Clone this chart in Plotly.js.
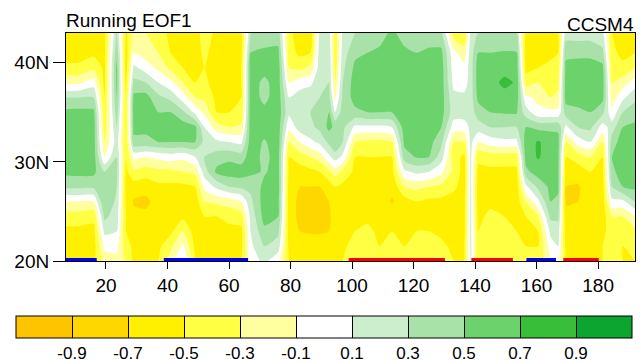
<!DOCTYPE html>
<html>
<head>
<meta charset="utf-8">
<script src="https://cdn.plot.ly/plotly-3.0.1.min.js"></script>
<style>html,body{margin:0;padding:0;background:#fff;}#chart{width:640px;height:362px;}</style>
</head>
<body>
<div id="chart"></div>
<script>
// Latitudes (rows, south to north)
const lats = [20, 21.5, 23, 24.5, 26, 27.5, 29, 30.5, 32, 33.5, 35, 36.5, 38, 39.5, 41, 43];
// Window-centre years (columns)
const years = [7, 11, 16, 19.5, 23.5, 26.5, 29, 33, 37, 41, 45, 49, 52, 56, 60, 64, 67, 71.5, 76,
  79.5, 83, 86.5, 89.5, 92.5, 94.5, 97, 101, 105, 109, 113, 117, 121, 125, 129, 133, 136.5, 138.6,
  141, 145, 149.5, 153.5, 156.5, 160.5, 164.5, 167, 169.5, 173.5, 177.5, 181.5, 184.5, 188, 192];
// EOF1 loading profile for each year (values from 20N to 43N)
const eofProfiles = [
  [-0.6,-0.6,-0.55,-0.4,-0.1,0.35,0.55,0.6,0.6,0.6,0.55,0.3,-0.15,-0.45,-0.6,-0.6],
  [-0.6,-0.6,-0.55,-0.4,-0.1,0.35,0.56,0.62,0.62,0.6,0.56,0.3,-0.15,-0.45,-0.6,-0.6],
  [-0.55,-0.6,-0.55,-0.45,-0.1,0.35,0.55,0.6,0.6,0.6,0.55,0.3,0.0,-0.35,-0.55,-0.6],
  [-0.2,-0.05,0.15,0.35,0.5,0.5,0.3,-0.1,-0.3,-0.4,-0.45,-0.5,-0.55,-0.55,-0.55,-0.55],
  [-0.15,-0.05,0.1,0.2,0.25,0.3,0.35,0.3,0.2,0.3,0.4,0.5,0.55,0.55,0.45,0.3],
  [-0.35,-0.4,-0.5,-0.5,-0.55,-0.55,-0.55,-0.5,-0.5,-0.5,-0.5,-0.5,-0.55,-0.6,-0.6,-0.55],
  [-0.55,-0.55,-0.6,-0.65,-0.72,-0.6,-0.35,-0.05,0.45,0.55,0.58,0.55,0.35,0.15,-0.1,-0.25],
  [-0.55,-0.6,-0.6,-0.65,-0.75,-0.62,-0.4,-0.1,0.45,0.55,0.55,0.58,0.3,0.0,-0.2,-0.3],
  [-0.5,-0.55,-0.6,-0.6,-0.6,-0.55,-0.35,-0.05,0.5,0.6,0.5,0.35,0.1,-0.15,-0.3,-0.4],
  [-0.2,-0.35,-0.55,-0.6,-0.6,-0.55,-0.35,0.0,0.5,0.6,0.5,0.25,-0.05,-0.35,-0.5,-0.55],
  [0.15,-0.05,-0.3,-0.55,-0.6,-0.55,-0.3,-0.05,0.5,0.6,0.35,0.0,-0.3,-0.5,-0.6,-0.6],
  [-0.5,-0.55,-0.6,-0.6,-0.6,-0.5,-0.25,0.1,0.5,0.55,0.05,-0.3,-0.5,-0.6,-0.6,-0.6],
  [-0.5,-0.55,-0.55,-0.5,-0.3,-0.05,0.2,0.3,0.25,0.1,-0.15,-0.35,-0.45,-0.5,-0.45,-0.4],
  [-0.6,-0.6,-0.55,-0.5,-0.25,0.15,0.55,0.4,0.15,-0.2,-0.5,-0.55,-0.6,-0.6,-0.6,-0.55],
  [-0.6,-0.6,-0.55,-0.45,-0.2,0.3,0.6,0.45,0.1,-0.3,-0.5,-0.55,-0.55,-0.6,-0.6,-0.6],
  [-0.5,-0.55,-0.55,-0.4,-0.1,0.35,0.6,0.4,0.05,-0.25,-0.45,-0.5,-0.5,-0.5,-0.55,-0.55],
  [0.0,0.05,0.1,0.15,0.25,0.35,0.55,0.6,0.6,0.6,0.6,0.6,0.6,0.6,0.5,0.3],
  [0.15,0.3,0.45,0.58,0.6,0.55,0.48,0.45,0.48,0.58,0.55,0.45,0.45,0.58,0.55,0.35],
  [-0.05,0.2,0.35,0.5,0.55,0.6,0.58,0.58,0.6,0.6,0.62,0.6,0.6,0.62,0.55,0.4],
  [-0.5,-0.55,-0.6,-0.6,-0.6,-0.6,-0.55,-0.5,-0.3,-0.05,0.15,0.1,-0.1,-0.3,-0.4,-0.45],
  [-0.55,-0.6,-0.7,-0.75,-0.75,-0.7,-0.6,-0.4,-0.1,0.2,0.3,0.2,0.0,-0.35,-0.55,-0.6],
  [-0.55,-0.6,-0.72,-0.75,-0.75,-0.7,-0.55,-0.3,0.05,0.25,0.3,0.25,0.05,-0.25,-0.5,-0.6],
  [-0.55,-0.62,-0.72,-0.75,-0.75,-0.7,-0.5,-0.2,0.15,0.35,0.35,0.3,0.25,0.2,0.2,0.15],
  [-0.55,-0.6,-0.7,-0.72,-0.7,-0.6,-0.35,0.05,0.35,0.55,0.5,0.35,0.3,0.3,0.25,0.2],
  [-0.5,-0.55,-0.6,-0.65,-0.6,-0.5,-0.2,0.2,0.5,0.45,0.1,-0.15,-0.3,-0.4,-0.45,-0.45],
  [-0.5,-0.55,-0.6,-0.6,-0.6,-0.55,-0.35,0.05,0.3,0.35,0.4,0.35,0.3,0.25,0.2,0.15],
  [-0.4,-0.4,-0.5,-0.55,-0.6,-0.6,-0.55,-0.5,-0.3,0.05,0.45,0.58,0.6,0.55,0.45,0.3],
  [-0.4,-0.4,-0.45,-0.55,-0.6,-0.6,-0.6,-0.5,-0.35,0.05,0.5,0.6,0.62,0.6,0.5,0.35],
  [-0.45,-0.5,-0.55,-0.6,-0.6,-0.6,-0.55,-0.5,-0.35,0.05,0.5,0.6,0.6,0.6,0.55,0.4],
  [-0.4,-0.45,-0.5,-0.6,-0.72,-0.65,-0.55,-0.5,-0.3,0.1,0.5,0.58,0.6,0.6,0.6,0.55],
  [-0.45,-0.5,-0.55,-0.6,-0.6,-0.3,0.05,0.4,0.55,0.6,0.6,0.6,0.6,0.6,0.55,0.4],
  [-0.35,-0.4,-0.5,-0.55,-0.5,-0.25,0.15,0.52,0.6,0.6,0.62,0.62,0.6,0.6,0.5,0.35],
  [-0.35,-0.4,-0.5,-0.6,-0.55,-0.3,0.1,0.5,0.58,0.6,0.6,0.6,0.6,0.6,0.55,0.35],
  [-0.4,-0.45,-0.55,-0.6,-0.55,-0.35,-0.05,0.2,0.35,0.5,0.58,0.6,0.6,0.6,0.55,0.35],
  [-0.5,-0.55,-0.6,-0.6,-0.6,-0.45,-0.35,-0.4,-0.3,0.0,0.2,0.15,0.05,0.0,-0.05,-0.4],
  [-0.5,-0.5,-0.55,-0.55,-0.55,-0.6,-0.6,-0.55,-0.3,0.0,0.2,0.15,0.0,-0.05,-0.2,-0.5],
  [0.15,0.15,0.15,0.15,0.15,0.15,0.15,0.15,0.15,0.15,0.2,0.2,0.2,0.2,0.2,0.15],
  [-0.5,-0.45,-0.5,-0.55,-0.6,-0.6,-0.55,-0.45,-0.1,0.2,0.4,0.55,0.6,0.6,0.5,0.3],
  [-0.4,-0.35,-0.35,-0.45,-0.55,-0.55,-0.55,-0.4,0.0,0.3,0.5,0.6,0.62,0.6,0.5,0.3],
  [-0.4,-0.35,-0.35,-0.5,-0.6,-0.6,-0.55,-0.4,0.05,0.3,0.52,0.62,0.75,0.62,0.52,0.3],
  [-0.45,-0.45,-0.5,-0.55,-0.6,-0.6,-0.55,-0.4,0.05,0.3,0.52,0.6,0.68,0.62,0.52,0.3],
  [-0.45,-0.5,-0.55,-0.5,-0.3,0.05,0.45,0.58,0.6,0.5,0.2,-0.05,-0.4,-0.55,-0.6,-0.55],
  [-0.45,-0.5,-0.5,-0.3,0.05,0.35,0.6,0.72,0.72,0.45,-0.05,-0.15,-0.3,-0.5,-0.55,-0.55],
  [-0.1,0.0,0.15,0.35,0.5,0.55,0.55,0.6,0.62,0.45,-0.05,-0.3,-0.35,-0.45,-0.55,-0.55],
  [0.05,0.1,0.2,0.35,0.45,0.55,0.55,0.55,0.58,0.45,-0.05,-0.25,-0.35,-0.45,-0.5,-0.5],
  [-0.5,-0.55,-0.6,-0.65,-0.72,-0.7,-0.6,-0.5,-0.3,0.05,0.4,0.58,0.6,0.55,0.45,0.2],
  [-0.5,-0.5,-0.55,-0.6,-0.7,-0.72,-0.6,-0.4,0.0,0.3,0.45,0.6,0.6,0.58,0.45,0.2],
  [-0.5,-0.5,-0.55,-0.6,-0.6,-0.6,-0.5,-0.3,0.1,0.35,0.5,0.55,0.6,0.58,0.45,0.2],
  [-0.5,-0.5,-0.55,-0.6,-0.6,-0.6,-0.55,-0.5,-0.3,0.0,0.35,0.55,0.58,0.55,0.35,0.15],
  [-0.35,-0.4,-0.4,-0.3,0.05,0.3,0.45,0.5,0.4,0.2,-0.05,-0.2,-0.3,-0.4,-0.45,-0.5],
  [-0.5,-0.5,-0.45,-0.3,0.05,0.5,0.6,0.6,0.6,0.5,0.3,0.05,-0.2,-0.45,-0.55,-0.55],
  [-0.5,-0.45,-0.35,-0.1,0.3,0.55,0.6,0.6,0.6,0.55,0.4,0.25,0.0,-0.3,-0.5,-0.55]
];
// Contour levels and band colours
const levels = [-0.9, -0.7, -0.5, -0.3, -0.1, 0.1, 0.3, 0.5, 0.7, 0.9];
const levelLabels = ['-0.9', '-0.7', '-0.5', '-0.3', '-0.1', '0.1', '0.3', '0.5', '0.7', '0.9'];
const bandColors = ['#FFC400', '#FFD700', '#FFF000', '#FFFF44', '#FFFFA0', '#FFFFFF',
  '#CCEECC', '#A8E2A8', '#6CD26C', '#38BE38', '#0CA530'];
// Significant periods marked along the bottom axis
const blueX = [7, 17, null, 38.8, 66.2, null, 156.7, 166.3];
const redX = [98.9, 130.2, null, 138.8, 152.3, null, 168.7, 180.2];
const xTicks = [20, 40, 60, 80, 100, 120, 140, 160, 180];
const yTicks = [20, 30, 40];
const yTickText = ['20N', '30N', '40N'];

// build z[lat][year]
const z = lats.map((_, j) => eofProfiles.map(col => col[j]));
const colorscale = bandColors.map((c, i) => [i / (bandColors.length - 1), c]);
const contours = {start: levels[0], end: levels[levels.length - 1], size: 0.2, coloring: 'fill', showlines: false};

const markY = (arr) => arr.map(v => v === null ? null : 20.15);

const traces = [
  {
    type: 'contour', x: years, y: lats, z: z,
    autocontour: false, contours: contours, colorscale: colorscale,
    zmin: -1.1, zmax: 1.1, zauto: false,
    line: {width: 0, smoothing: 0.6}, showscale: false, hoverinfo: 'skip'
  },
  {
    // colour key only (its data lies outside the plotted range)
    type: 'contour', x: [400, 401], y: [20, 21], z: [[-1, 1], [1, -1]],
    autocontour: false, contours: {start: levels[0], end: levels[levels.length - 1], size: 0.2, coloring: 'fill', showlines: true},
    colorscale: colorscale, zmin: -1.1, zmax: 1.1, zauto: false,
    line: {width: 1, color: '#000'}, hoverinfo: 'skip',
    showscale: true,
    colorbar: {
      orientation: 'h', thickness: 22, thicknessmode: 'pixels',
      len: 616, lenmode: 'pixels', x: 0.4534, xanchor: 'center',
      y: -0.2412, yanchor: 'top', xpad: 0, ypad: 0,
      outlinewidth: 1, outlinecolor: '#000',
      ticks: '', ticklen: 0, tickvals: levels, ticktext: levelLabels,
      tickfont: {size: 17, color: '#000'}
    }
  },
  {type: 'scatter', mode: 'lines', x: blueX, y: markY(blueX), line: {color: '#0000FF', width: 3}, hoverinfo: 'skip'},
  {type: 'scatter', mode: 'lines', x: redX, y: markY(redX), line: {color: '#FF0000', width: 3}, hoverinfo: 'skip'}
];

const layout = {
  width: 640, height: 362,
  margin: {l: 66, r: 5, t: 33, b: 101, autoexpand: false},
  paper_bgcolor: '#fff', plot_bgcolor: '#fff',
  font: {family: '"Liberation Sans", Arial, Helvetica, sans-serif', color: '#000', size: 19},
  showlegend: false,
  xaxis: {
    range: [7, 192], tickvals: xTicks, ticks: 'outside', ticklen: 7, tickwidth: 1, tickcolor: '#000',
    showline: true, mirror: true, linecolor: '#000', linewidth: 1, showgrid: false, zeroline: false,
    tickfont: {size: 19}
  },
  yaxis: {
    range: [20, 43], tickvals: yTicks, ticktext: yTickText, ticks: 'outside', ticklen: 12, tickwidth: 1,
    tickcolor: '#000', showline: true, mirror: true, linecolor: '#000', linewidth: 1, showgrid: false,
    zeroline: false, tickfont: {size: 19}
  },
  annotations: [
    {text: 'Running EOF1', xref: 'paper', yref: 'paper', x: 0, y: 1, xanchor: 'left', yanchor: 'bottom',
     showarrow: false, xshift: -2, yshift: 0, font: {size: 19}},
    {text: 'CCSM4', xref: 'paper', yref: 'paper', x: 1, y: 1, xanchor: 'right', yanchor: 'bottom',
     showarrow: false, xshift: 1, yshift: -4, font: {size: 19}}
  ]
};

Plotly.newPlot('chart', traces, layout, {staticPlot: true, displayModeBar: false});
</script>
</body>
</html>
